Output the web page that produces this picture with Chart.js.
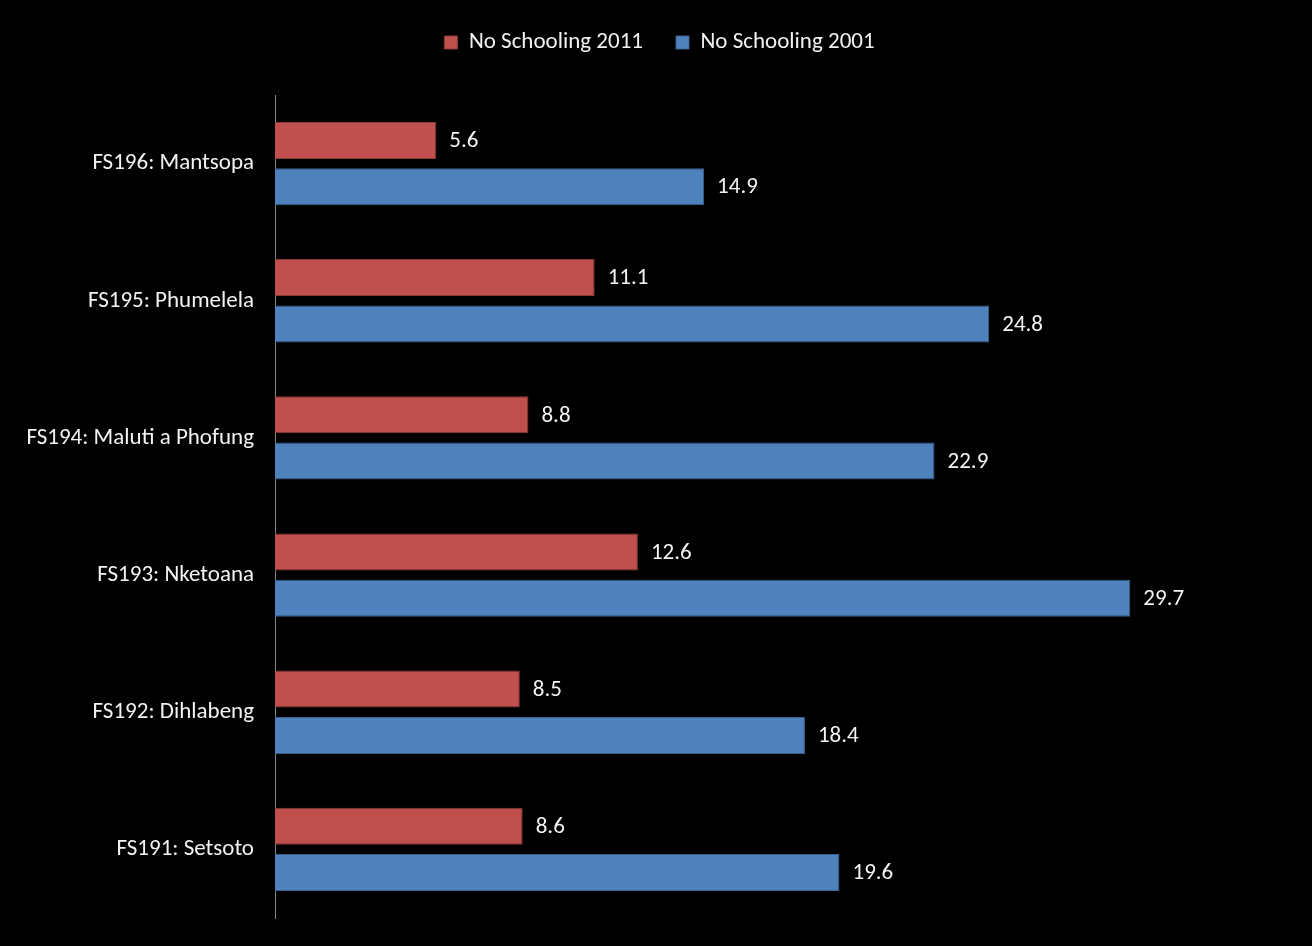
<!DOCTYPE html>
<html>
<head>
<meta charset="utf-8">
<script src="https://cdn.jsdelivr.net/npm/chart.js@4"></script>
<style>
  html, body { margin: 0; padding: 0; background: #000; }
  #wrap { width: 1312px; height: 946px; }
</style>
</head>
<body>
<div id="wrap"><canvas id="chart" width="1312" height="946"></canvas></div>
<script>
// ---- data ----
const municipalities = [
  'FS196: Mantsopa',
  'FS195: Phumelela',
  'FS194: Maluti a Phofung',
  'FS193: Nketoana',
  'FS192: Dihlabeng',
  'FS191: Setsoto'
];
const noSchooling2011 = [5.6, 11.1, 8.8, 12.6, 8.5, 8.6];
const noSchooling2001 = [14.9, 24.8, 22.9, 29.7, 18.4, 19.6];

const fontFamily = 'Carlito, Lato, sans-serif';

// value labels next to each bar
const barValueLabels = {
  id: 'barValueLabels',
  afterDatasetsDraw(chart) {
    const ctx = chart.ctx;
    ctx.save();
    ctx.font = '23px ' + fontFamily;
    ctx.fillStyle = '#F2F2F2';
    ctx.textAlign = 'left';
    ctx.textBaseline = 'middle';
    chart.data.datasets.forEach((ds, i) => {
      chart.getDatasetMeta(i).data.forEach((bar, j) => {
        ctx.fillText(ds.data[j].toFixed(1), bar.x + 13, bar.y + 1);
      });
    });
    ctx.restore();
  }
};

// extra room under the legend, and nudge the legend to where it sits in the original
const legendPlacement = {
  id: 'legendPlacement',
  beforeInit(chart) {
    const fit = chart.legend.fit;
    chart.legend.fit = function() {
      fit.bind(chart.legend)();
      this.height += 27;
    };
  },
  afterLayout(chart) {
    chart.legend.left += 18;
    chart.legend.right += 18;
    chart.legend.top -= 4;
  }
};

new Chart(document.getElementById('chart'), {
  type: 'bar',
  data: {
    labels: municipalities,
    datasets: [
      {
        label: 'No Schooling 2011',
        data: noSchooling2011,
        backgroundColor: '#C0504D',
        borderColor: '#8C3A38',
        borderWidth: 1
      },
      {
        label: 'No Schooling 2001',
        data: noSchooling2001,
        backgroundColor: '#4F81BD',
        borderColor: '#3A6190',
        borderWidth: 1
      }
    ]
  },
  options: {
    indexAxis: 'y',
    responsive: false,
    animation: false,
    categoryPercentage: 0.675,
    barPercentage: 0.8,
    layout: { padding: { left: 0, right: 29, top: 2, bottom: 28 } },
    plugins: {
      legend: {
        position: 'top',
        labels: {
          color: '#F2F2F2',
          font: { family: fontFamily, size: 23 },
          boxWidth: 13,
          boxHeight: 13,
          padding: 33
        }
      },
      tooltip: { enabled: false }
    },
    scales: {
      x: {
        display: false,
        min: 0,
        max: 35
      },
      y: {
        afterFit: scale => {
          scale.width = 275;
          scale.paddingTop = 0;
          scale.paddingBottom = 0;
        },
        grid: { display: false, drawTicks: false },
        border: { display: true, color: '#868686', width: 1 },
        ticks: {
          color: '#F2F2F2',
          font: { family: fontFamily, size: 23 },
          padding: 21
        }
      }
    }
  },
  plugins: [legendPlacement, barValueLabels]
});
</script>
</body>
</html>
